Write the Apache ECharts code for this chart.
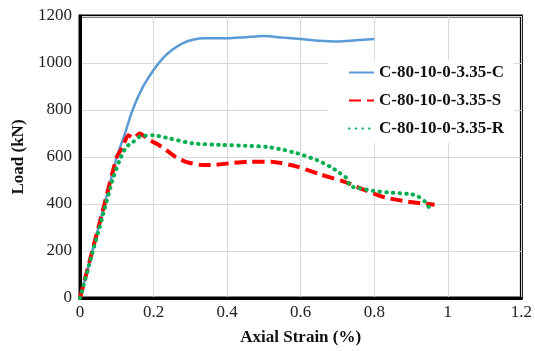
<!DOCTYPE html>
<html>
<head>
<meta charset="utf-8">
<script src="https://cdn.jsdelivr.net/npm/echarts@6/dist/echarts.min.js"></script>
<style>
html, body { margin: 0; padding: 0; background: #fff; }
#chart { width: 535px; height: 351px; }
</style>
</head>
<body>
<div id="chart"></div>
<script>
// series names
const seriesNames = ['C-80-10-0-3.35-C', 'C-80-10-0-3.35-S', 'C-80-10-0-3.35-R'];

// C: axial strain (%) / load (kN)
const cStrain = [0, 0.02, 0.05, 0.08, 0.10, 0.12, 0.143, 0.17, 0.2, 0.225, 0.25, 0.28, 0.31, 0.34, 0.4, 0.45, 0.5, 0.55, 0.6, 0.65, 0.7, 0.75, 0.8];
const cLoad   = [0, 120, 300, 480, 600, 690, 800, 895, 970, 1020, 1055, 1085, 1100, 1105, 1105, 1110, 1115, 1108, 1102, 1095, 1092, 1097, 1102];

// S
const sStrain = [0, 0.03, 0.06, 0.1, 0.115, 0.131, 0.145, 0.162, 0.189, 0.21, 0.234, 0.26, 0.29, 0.333, 0.36, 0.405, 0.459, 0.52, 0.59, 0.653, 0.716, 0.775, 0.829, 0.892, 0.964];
const sLoad   = [0, 180, 360, 600, 640, 693, 680, 700, 672, 655, 630, 600, 578, 566, 566, 573, 580, 580, 559, 526, 496, 459, 428, 410, 397];

// R
const rStrain = [0, 0.03, 0.06, 0.09, 0.108, 0.126, 0.145, 0.162, 0.198, 0.243, 0.306, 0.387, 0.45, 0.509, 0.554, 0.59, 0.644, 0.68, 0.707, 0.725, 0.734, 0.757, 0.797, 0.838, 0.9, 0.919, 0.937, 0.95];
const rLoad   = [0, 170, 340, 510, 587, 643, 665, 686, 693, 679, 658, 651, 648, 643, 630, 616, 587, 559, 531, 510, 477, 468, 456, 449, 442, 432, 411, 383];

const zip = (xs, ys) => xs.map((x, i) => [x, ys[i]]);
const serif = '"Liberation Serif", "Times New Roman", serif';

const chart = echarts.init(document.getElementById('chart'), null, { renderer: 'canvas' });
chart.setOption({
  animation: false,
  backgroundColor: '#fff',
  grid: { left: 80, right: 11, top: 16, bottom: 52, show: true, borderColor: '#000', borderWidth: 3, backgroundColor: 'transparent' },
  legend: {
    data: seriesNames,
    orient: 'vertical',
    left: 328, top: 60,
    padding: [4, 10, 6, 20],
    backgroundColor: '#fff',
    itemWidth: 25, itemHeight: 12, itemGap: 11,
    itemStyle: { opacity: 0 },
    textStyle: { fontFamily: serif, fontWeight: 'bold', fontSize: 17, color: '#111' }
  },
  xAxis: {
    type: 'value', min: 0, max: 1.2, interval: 0.2,
    name: 'Axial Strain (%)', nameLocation: 'middle', nameGap: 31,
    nameTextStyle: { fontFamily: serif, fontWeight: 'bold', fontSize: 17, color: '#111' },
    axisLine: { show: true, lineStyle: { color: '#000', width: 3 } },
    axisTick: { show: false },
    axisLabel: { fontFamily: serif, fontSize: 17, color: '#222', margin: 6, formatter: v => String(+v.toFixed(1)) },
    splitLine: { lineStyle: { color: '#d9d9d9', width: 1 } }
  },
  yAxis: {
    type: 'value', min: 0, max: 1200, interval: 200,
    name: 'Load (kN)', nameLocation: 'middle', nameGap: 53,
    nameTextStyle: { fontFamily: serif, fontWeight: 'bold', fontSize: 17, color: '#111' },
    axisLine: { show: true, lineStyle: { color: '#000', width: 3 } },
    axisTick: { show: false },
    axisLabel: { fontFamily: serif, fontSize: 17, color: '#222', margin: 8, formatter: v => String(v) },
    splitLine: { lineStyle: { color: '#d9d9d9', width: 1 } }
  },
  series: [
    {
      name: seriesNames[0], type: 'line', showSymbol: false, symbol: 'none', smooth: 0.3,
      data: zip(cStrain, cLoad), z: 3,
      lineStyle: { color: '#5b9bd5', width: 2.5 }, itemStyle: { color: '#5b9bd5' }
    },
    {
      name: seriesNames[1], type: 'line', showSymbol: false, symbol: 'none', smooth: 0.2,
      data: zip(sStrain, sLoad), z: 4,
      lineStyle: { color: '#ff0000', width: 4, type: [12, 6] }, itemStyle: { color: '#ff0000' }
    },
    {
      name: seriesNames[2], type: 'line', showSymbol: false, symbol: 'none', smooth: 0.2,
      data: zip(rStrain, rLoad), z: 5,
      lineStyle: { color: '#00b050', width: 4, type: [0.5, 6.2], cap: 'round' }, itemStyle: { color: '#00b050' }
    }
  ]
});
</script>
</body>
</html>
